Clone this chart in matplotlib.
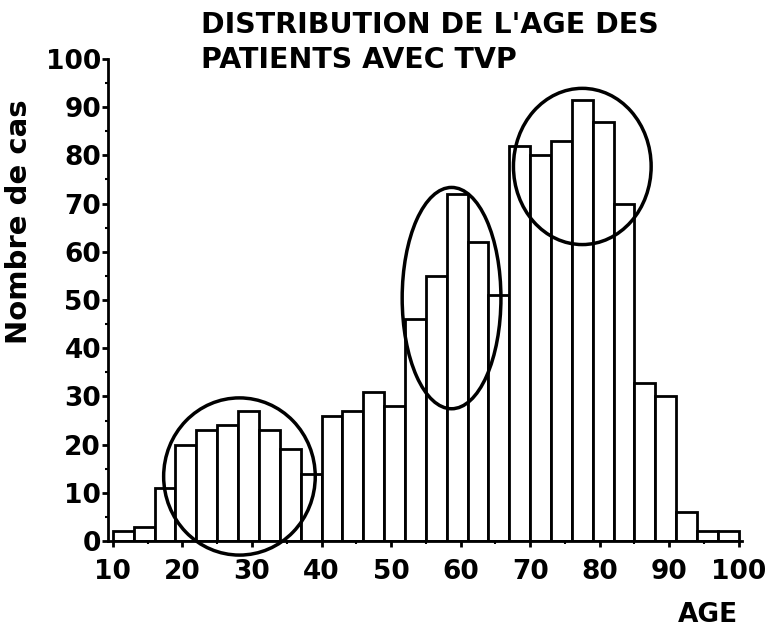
import matplotlib.pyplot as plt
from matplotlib.patches import Ellipse
from matplotlib.ticker import MultipleLocator

# Age bins (3 years wide, starting at 10) and number of cases per bin
bin_starts = list(range(10, 100, 3))
counts = [2, 3, 11, 20, 23, 24, 27, 23, 19, 14,
          26, 27, 31, 28, 46, 55, 72, 62, 51, 82,
          80, 83, 91.5, 87, 70, 32.7, 30, 6, 2, 2]

# Highlighted groups: (center age, center count, width, height)
groups = [(28.2, 13.4, 21.8, 32.6),
          (58.7, 50.4, 14.2, 45.9),
          (77.5, 77.7, 19.8, 32.4)]

x_ticks = list(range(10, 101, 10))
y_ticks = list(range(0, 101, 10))

fig = plt.figure(figsize=(7.66, 6.27), dpi=100)
ax = fig.add_axes([0.141, 0.137, 0.828, 0.769])

ax.bar(bin_starts, counts, width=3, align='edge', color='white',
       edgecolor='black', linewidth=2)

for cx, cy, w, h in groups:
    ax.add_patch(Ellipse((cx, cy), w, h, fill=False, edgecolor='black',
                         linewidth=2.5, clip_on=False, zorder=5))

ax.set_xlim(9.3, 100.5)
ax.set_ylim(0, 100)
ax.set_xticks(x_ticks)
ax.set_yticks(y_ticks)
ax.xaxis.set_minor_locator(MultipleLocator(5))
ax.yaxis.set_minor_locator(MultipleLocator(5))

for side in ['top', 'right']:
    ax.spines[side].set_visible(False)
for side in ['left', 'bottom']:
    ax.spines[side].set_linewidth(2)

ax.tick_params(axis='x', which='major', length=4, width=2,
               labelsize=19, pad=9)
ax.tick_params(axis='y', which='major', length=4, width=2,
               labelsize=19, pad=1)
ax.tick_params(axis='both', which='minor', length=2.5, width=1.5)
for label in ax.get_xticklabels() + ax.get_yticklabels():
    label.set_fontweight('bold')

ax.set_ylabel('Nombre de cas', fontsize=21, fontweight='bold')
ax.yaxis.set_label_coords(-0.118, 0.662)
fig.text(0.924, 0.008, 'AGE', fontsize=19, fontweight='bold', ha='center')

fig.text(0.262, 0.882, "DISTRIBUTION DE L'AGE DES\nPATIENTS AVEC TVP",
         fontsize=20.5, fontweight='bold', ha='left', va='bottom',
         linespacing=1.3)

fig.savefig('out.png', dpi=100)
